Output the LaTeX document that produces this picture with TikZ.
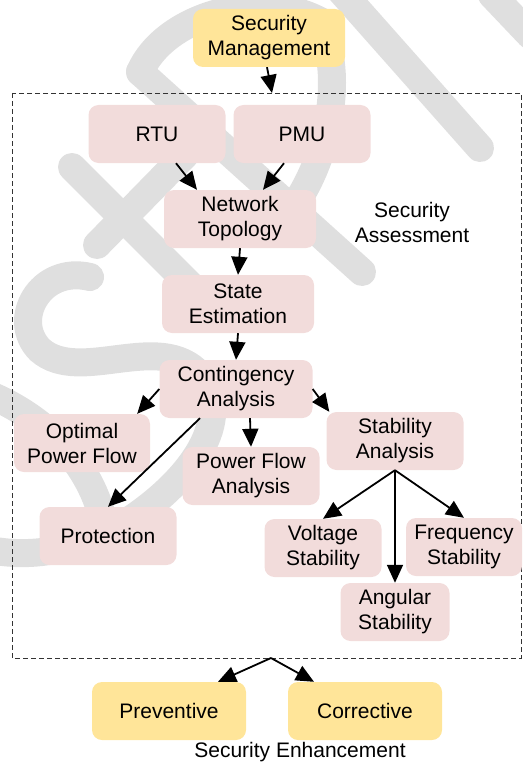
\documentclass[tikz,border=0pt]{standalone}
\usepackage{fontspec}
\setmainfont{Liberation Sans}
\usetikzlibrary{arrows.meta}
\definecolor{pinkfill}{HTML}{F2DCDB}
\definecolor{yellowfill}{HTML}{FFE599}
\definecolor{wmgray}{HTML}{DFDFDF}
\newcommand{\boxfont}{\fontsize{21}{25}\selectfont}
\tikzset{stagebox/.style={fill=pinkfill, rounded corners=10pt, align=center,
        inner sep=0pt, minimum height=58pt, font=\boxfont},
    actionbox/.style={stagebox, fill=yellowfill},
    arr/.style={-{Triangle[length=18pt,width=16pt]}, line width=1.8pt},
    wmark/.style={draw=wmgray, line width=28pt, line cap=round},
    groupline/.style={draw=black!80, dash pattern=on 5pt off 3pt, line width=0.8pt},
    }

\begin{document}
\begin{tikzpicture}[x=1pt,y=-1pt]
\useasboundingbox (0,0) rectangle (522,765);
% watermark
\draw[wmark] (140,72) -- (362,272);
\draw[wmark] (140,72) .. controls (165,15) and (260,-10) .. (318,20) .. controls (345,70) and (330,150) .. (298,200);
\draw[wmark] (340,-10) -- (480,148);
\draw[wmark] (492,-5) -- (530,35);
\draw[wmark] (72,167) -- (205,300);
\draw[wmark] (97,245) -- (185,155);
\draw[wmark] (90,277) .. controls (40,265) and (10,320) .. (40,350) .. controls (80,385) and (160,330) .. (200,375) .. controls (235,420) and (190,480) .. (130,520) .. controls (90,545) and (40,560) .. (-10,550);
\draw[wmark] (-10,395) .. controls (50,420) and (95,470) .. (105,530);

% security management
\node[actionbox, minimum width=152pt] (secman) at (269,38) {Security\\Management};
\draw[groupline] (12,93) rectangle (521,658);
\coordinate (grptop) at (272,93);
\coordinate (grpbot) at (271,658);
\node[font=\boxfont, align=center] (assesslbl) at (412,222) {Security\\Assessment};

% assessment chain
\node[stagebox, minimum width=137pt] (rtu) at (157,134) {RTU};
\node[stagebox, minimum width=137pt] (pmu) at (302,134) {PMU};
\node[stagebox, minimum width=152pt] (topo) at (240,219) {Network\\Topology};
\node[stagebox, minimum width=152pt] (state) at (238,304) {State\\Estimation};
\node[stagebox, minimum width=153pt] (conting) at (236,389) {Contingency\\Analysis};
\node[stagebox, minimum width=136pt] (opf) at (82,443) {Optimal\\Power Flow};
\node[stagebox, minimum width=137pt] (pfa) at (251,476) {Power Flow\\Analysis};
\node[stagebox, minimum width=137pt] (stab) at (395,441) {Stability\\Analysis};
\node[stagebox, minimum width=137pt] (prot) at (108,536) {Protection};
\node[stagebox, minimum width=117pt] (volt) at (323,548) {Voltage\\Stability};
\node[stagebox, minimum width=116pt] (freq) at (464,547) {Frequency\\Stability};
\node[stagebox, minimum width=109pt] (ang) at (395,612) {Angular\\Stability};

% enhancement
\node[actionbox, minimum width=154pt] (prev) at (169,711) {Preventive};
\node[actionbox, minimum width=154pt] (corr) at (365,711) {Corrective};
\node[font=\boxfont] (enhlbl) at (300,752) {Security Enhancement};

% connectors
\draw[arr] ([xshift=-2pt]secman.south) -- (grptop);
\draw[arr] ([xshift=19pt]rtu.south) -- ([xshift=-43pt]topo.north);
\draw[arr] ([xshift=-18pt]pmu.south) -- ([xshift=23pt]topo.north);
\draw[arr] (topo.south) -- (state.north);
\draw[arr] (state.south) -- (conting.north);
\draw[arr] (conting.west) -- ([xshift=-13pt]opf.north east);
\draw[arr] (conting.east) -- ([xshift=3pt]stab.north west);
\draw[arr] ([xshift=14pt]conting.south) -- (pfa.north);
\draw[arr] ([xshift=-36pt]conting.south) -- (prot.north);
\draw[arr] (stab.south) -- (volt.north);
\draw[arr] (stab.south) -- (ang.north);
\draw[arr] (stab.south) -- (freq.north);
\draw[arr] (grpbot) -- ([xshift=49pt]prev.north);
\draw[arr] (grpbot) -- ([xshift=-51pt]corr.north);
\end{tikzpicture}
\end{document}
